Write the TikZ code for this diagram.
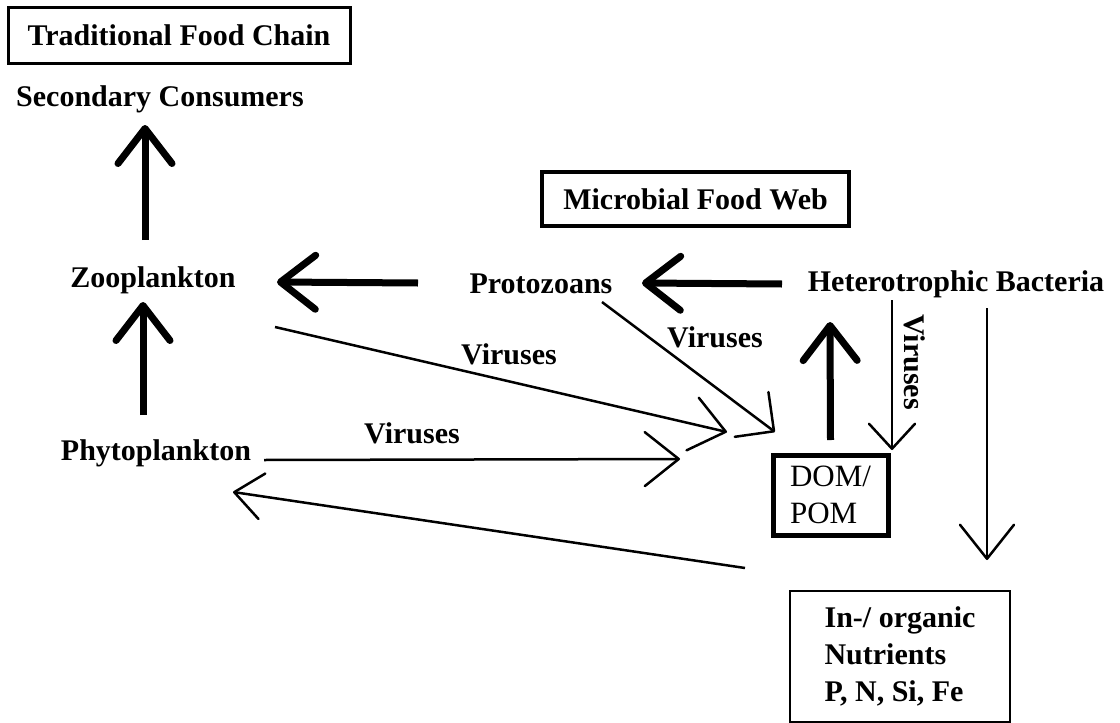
\documentclass[tikz,border=0pt]{standalone}
\usepackage{fontspec}
\setmainfont{Liberation Serif}
\usetikzlibrary{arrows.meta,calc}
\tikzset{
  lbl/.style={inner sep=0pt, font=\fontsize{30}{37}\selectfont\bfseries, anchor=base},
  boxed/.style={draw, font=\fontsize{30}{37}\selectfont\bfseries, inner sep=0pt},
  thickarr/.style={line width=7pt, -{Straight Barb[length=35pt,width=54pt,round]}},
  thinarr/.style={line width=2.5pt, -{Straight Barb[length=34pt,width=54pt,round]}},
}
\begin{document}
\begin{tikzpicture}[x=1pt,y=-1pt]
\useasboundingbox (0,0) rectangle (1120,723);
\fill[white] (0,0) rectangle (1120,723);

% boxes
\node[boxed, line width=3pt, minimum width=342pt, minimum height=56pt] (tfc) at (179,35) {Traditional Food Chain};
\node[boxed, line width=3.5pt, minimum width=307pt, minimum height=54pt] (mfw) at (695.5,199) {Microbial Food Web};
\node[draw, line width=5pt, minimum width=115pt, minimum height=80pt, inner sep=0pt,
      align=left, font=\fontsize{31}{37}\selectfont] (dom) at (830.5,495) {DOM/\\POM};
\node[boxed, line width=2pt, minimum width=220pt, minimum height=131pt,
      align=left] (nut) at (900,656.5) {In-/ organic\\Nutrients\\P, N, Si, Fe};

% text nodes
\node[lbl] (sc) at (160,106) {Secondary Consumers};
\node[lbl] (zoo) at (153,287) {Zooplankton};
\node[lbl] (phy) at (156,460) {Phytoplankton};
\node[lbl] (proto) at (541,293) {Protozoans};
\node[lbl] (het) at (956,291) {Heterotrophic Bacteria};

% thick arrows
\draw[thickarr] ($(zoo.base)+(-8,-47)$) -- ($(sc.base)+(-15,19)$);
\draw[thickarr] ($(phy.base)+(-13,-45)$) -- ($(zoo.base)+(-10,15)$);
\draw[thickarr] ($(het.base)+(-174,-7)$) -- ($(proto.base)+(101,-10)$);
\draw[thickarr] ($(proto.base)+(-123,-10)$) -- ($(zoo.base)+(124,-5)$);
\draw[thickarr] ($(dom.center)+(0,-55)$) -- ($(het.base)+(-126,31)$);

% thin arrows
\draw[thinarr, -{Straight Barb[length=25pt,width=46pt,round]}] ($(het.base)+(-64,9)$) -- ($(dom.center)+(61.5,-45)$);
\draw[thinarr] ($(het.base)+(31,17)$) -- ($(nut.center)+(87,-96.5)$);
\draw[thinarr, -{Straight Barb[length=28pt,width=56pt,round]}] ($(proto.base)+(61,9)$) -- ($(dom.center)+(-55.5,-63)$);
\draw[thinarr] ($(zoo.base)+(122,40)$) -- ($(dom.center)+(-103.5,-63)$);
\draw[thinarr] ($(phy.base)+(108,0)$) -- ($(dom.center)+(-150.5,-36)$);
\draw[thinarr, -{Straight Barb[length=28pt,width=46pt,round]}] ($(nut.center)+(-155,-88.5)$) -- ($(phy.base)+(77,32)$);

% virus labels
\node[lbl] (v1) at (412,443) {Viruses};
\node[lbl] (v2) at (509,364) {Viruses};
\node[lbl] (v3) at (715,347) {Viruses};
\node[lbl, anchor=center, rotate=-90] (v4) at (915,362) {Viruses};
\end{tikzpicture}
\end{document}
